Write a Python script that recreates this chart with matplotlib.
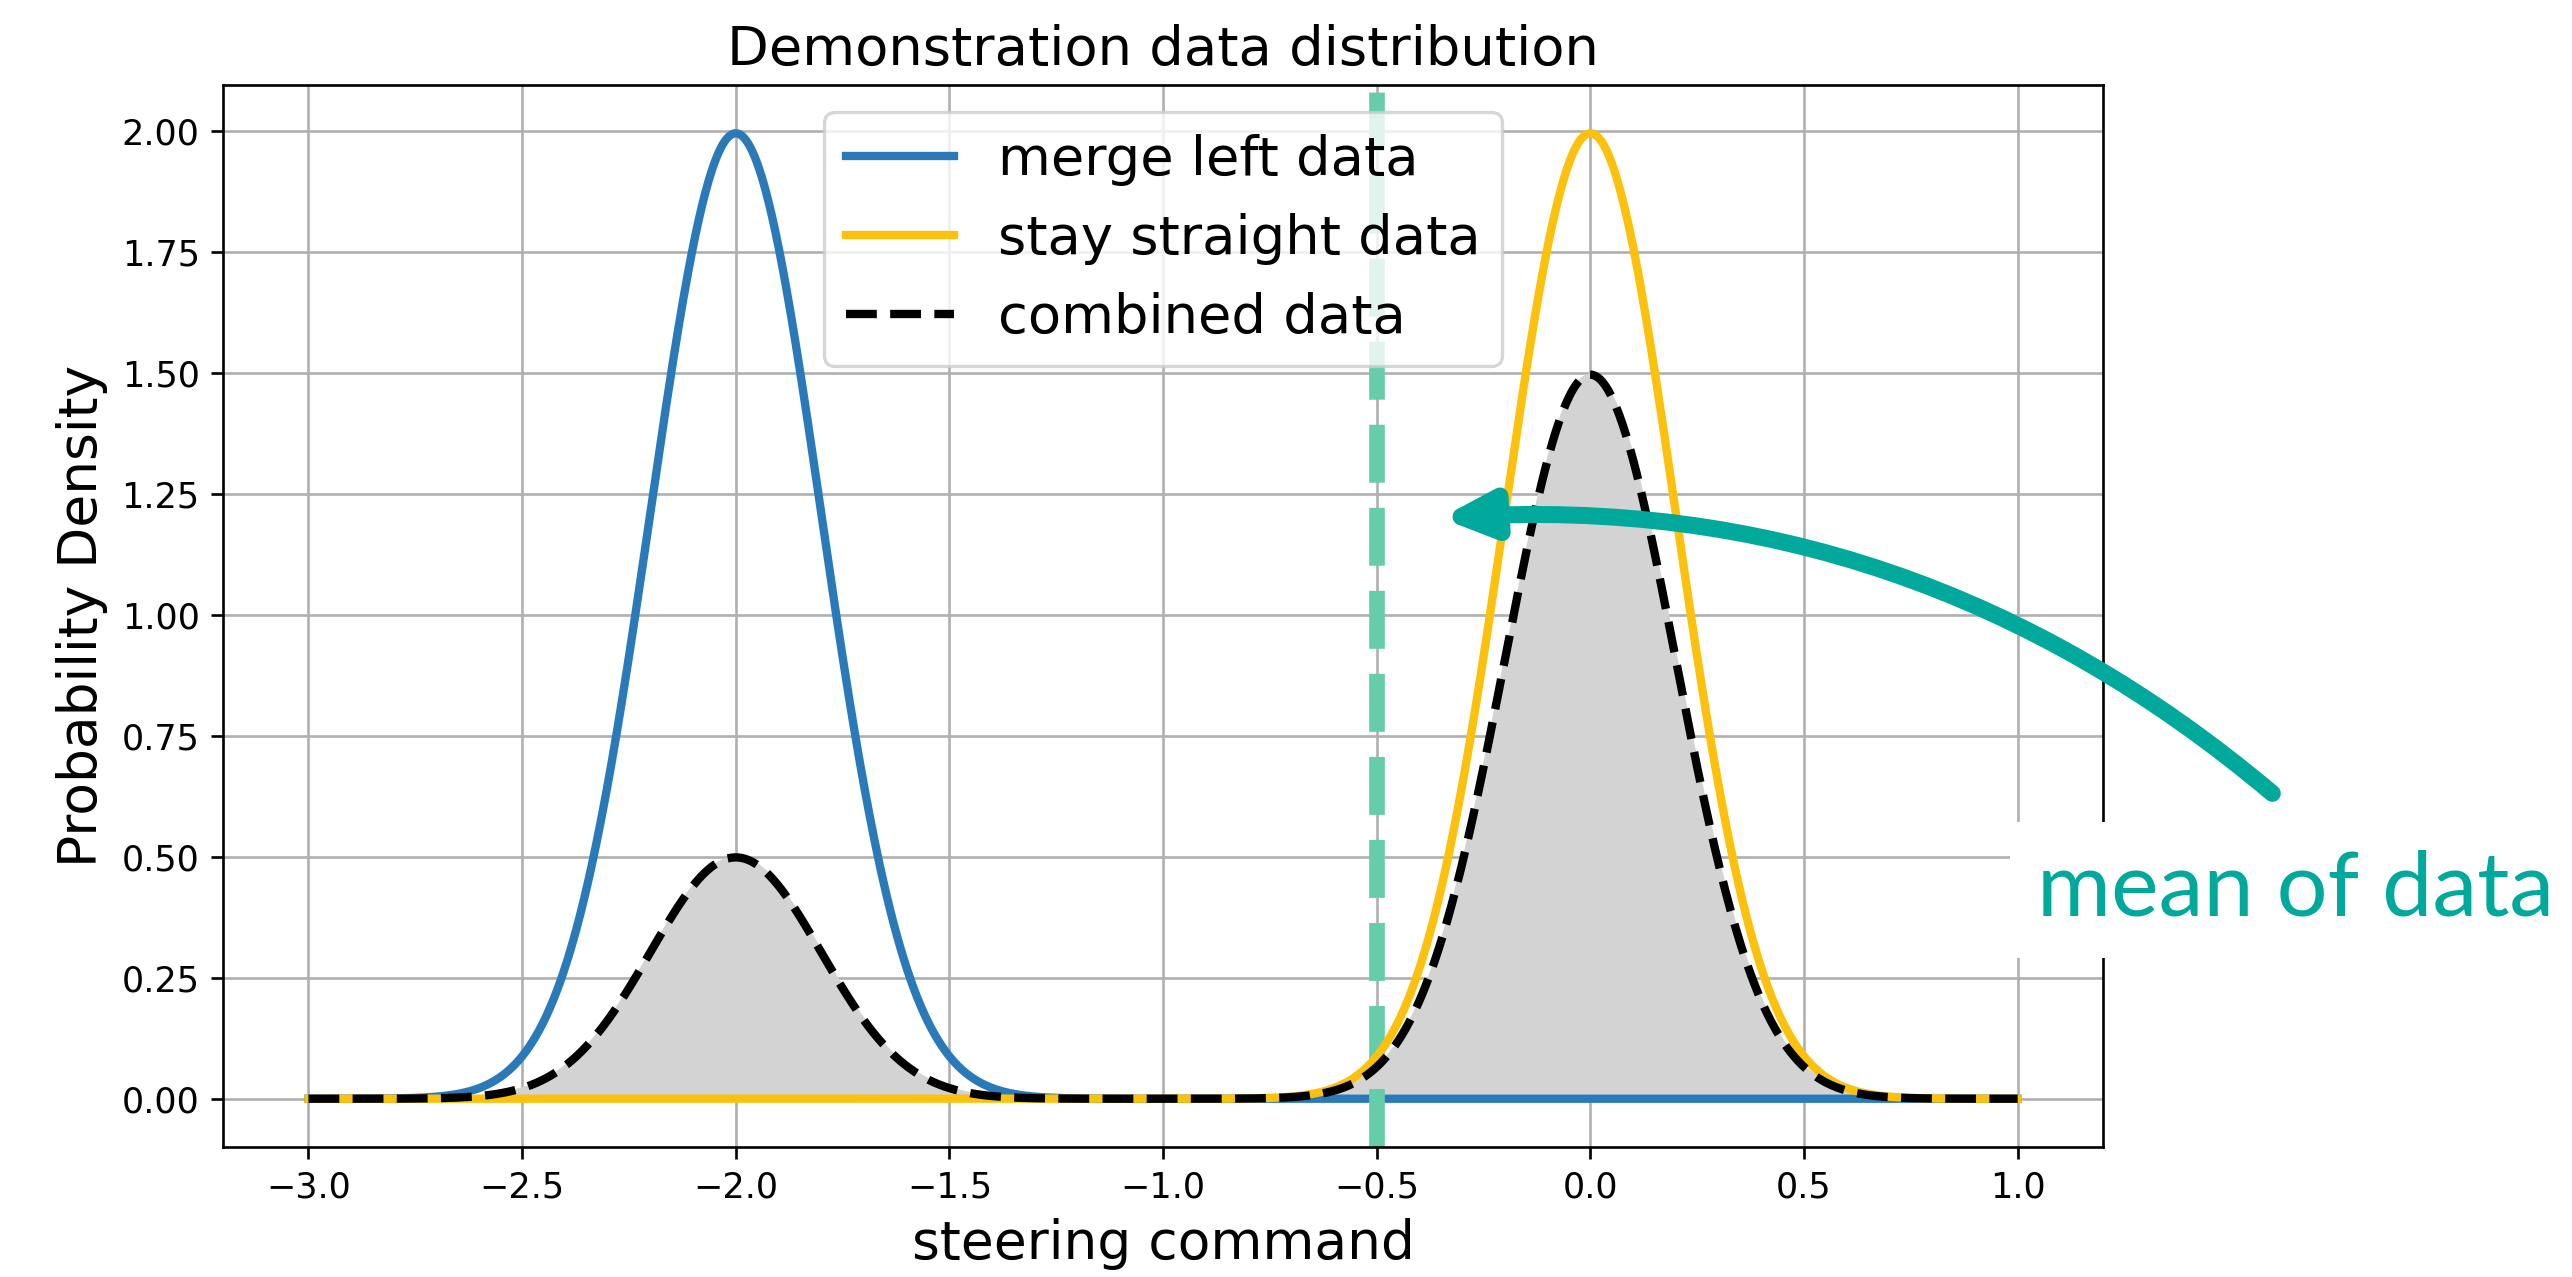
import numpy as np
import matplotlib
matplotlib.use("Agg")
import matplotlib.pyplot as plt

# parameters of the two demonstration distributions
labels = ["merge left data", "stay straight data"]
means = [-2.0, 0.0]
std = 0.2
weights = [0.25, 0.75]
x_range = [-3.0, 1.0]
xticks = [-3.0, -2.5, -2.0, -1.5, -1.0, -0.5, 0.0, 0.5, 1.0]
yticks = [0.0, 0.25, 0.5, 0.75, 1.0, 1.25, 1.5, 1.75, 2.0]

culori = ["#2a7ab9", "#fcc10d"]
teal = "#00a99c"


def gauss(x, mu, s):
    return np.exp(-0.5 * ((x - mu) / s) ** 2) / (s * np.sqrt(2 * np.pi))


x = np.linspace(x_range[0], x_range[1], 1000)
dens = [gauss(x, m, std) for m in means]
combinat = sum(w * d for w, d in zip(weights, dens))
media = sum(w * m for w, m in zip(weights, means))

fig = plt.figure(figsize=(2572 / 240, 1277 / 240), dpi=240)
ax = fig.add_axes([0.0867, 0.1018, 0.7310, 0.8316])

ax.fill_between(x, combinat, color="lightgray", zorder=1.6)
ax.plot(x, dens[0], color=culori[0], lw=2.5, label=labels[0], zorder=2)
ax.axvline(media, color="#66cdaa", lw=4.7, ls="--", zorder=2.1)
ax.plot(x, dens[1], color=culori[1], lw=2.5, label=labels[1], zorder=2.2)
ax.plot(x, combinat, color="k", lw=2.5, ls="--", label="combined data", zorder=2.3)

ax.set_xticks(xticks)
ax.set_yticks(yticks)
ax.tick_params(labelsize=10.5)
ax.grid(True)
ax.set_title("Demonstration data distribution", fontsize=16.3)
ax.set_xlabel("steering command", fontsize=16)
ax.set_ylabel("Probability Density", fontsize=16)
ax.legend(loc="upper center", fontsize=16.3)

# adnotare pentru media datelor
ax.annotate("", xy=(-0.35, 1.2), xycoords="data",
            xytext=(1.09, 0.333), textcoords="axes fraction",
            annotation_clip=False, zorder=6,
            arrowprops=dict(arrowstyle="-|>,head_length=1.2,head_width=0.55",
                            mutation_scale=10, lw=5.1, color=teal,
                            shrinkA=0, shrinkB=0,
                            connectionstyle="arc3,rad=0.2"))
ax.text(0.965, 0.218, "mean of data", transform=ax.transAxes,
        fontsize=27, family="Lato", color=teal, clip_on=False, zorder=7,
        bbox=dict(boxstyle="square,pad=0.3", facecolor="white", edgecolor="none"))

fig.savefig("out.png", dpi=240)
